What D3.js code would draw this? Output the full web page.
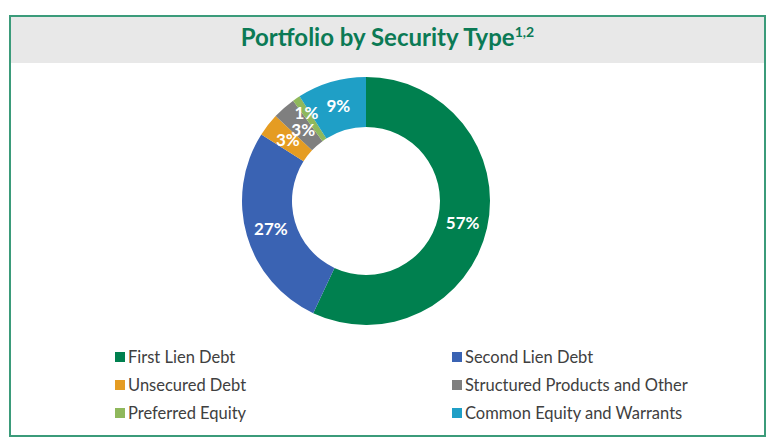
<!DOCTYPE html>
<html>
<head>
<meta charset="utf-8">
<script src="https://cdn.jsdelivr.net/npm/d3@7"></script>
<style>
  html, body { margin: 0; padding: 0; background: #fff; }
  svg { display: block; font-family: Lato, "Open Sans", sans-serif; }
</style>
</head>
<body>
<svg id="chart" width="784" height="447"></svg>
<script>
// data
const categories = ["First Lien Debt", "Second Lien Debt", "Unsecured Debt",
                    "Structured Products and Other", "Preferred Equity", "Common Equity and Warrants"];
const shares = [57, 27, 3, 3, 1, 9];
const colors = ["#00804f", "#3a63b3", "#e59c22", "#7f7f7f", "#8fb85c", "#1f9fc6"];

const width = 784;
const height = 447;
const frame = { left: 10, top: 16, right: 765, bottom: 436 };
const titleBand = 46;

const svg = d3.select('#chart');

// frame + title band
svg.append('rect')
    .attr('x', frame.left + 1)
    .attr('y', frame.top + 1)
    .attr('width', frame.right - frame.left - 2)
    .attr('height', titleBand)
    .attr('fill', '#e8e8e8');

svg.append('rect')
    .attr('x', frame.left)
    .attr('y', frame.top)
    .attr('width', frame.right - frame.left)
    .attr('height', frame.bottom - frame.top)
    .attr('fill', 'none')
    .attr('stroke', '#3b9b7a')
    .attr('stroke-width', 2);

const title = svg.append('text')
    .attr('x', (frame.left + frame.right) / 2)
    .attr('y', 46)
    .attr('text-anchor', 'middle')
    .style('font-size', '24px')
    .style('font-weight', 'bold')
    .style('fill', '#0b7a55')
    .text('Portfolio by Security Type');
title.append('tspan')
    .attr('dy', -9)
    .style('font-size', '14px')
    .text('1,2');

// donut
const cx = 366, cy = 201;
const outerR = 124, innerR = 74;

const pie = d3.pie().sort(null).value(d => d.value);
const arc = d3.arc().innerRadius(innerR).outerRadius(outerR);

const data = categories.map((c, i) => ({ name: c, value: shares[i], color: colors[i] }));

const g = svg.append('g').attr('transform', `translate(${cx}, ${cy})`);

const arcs = pie(data);

g.selectAll('path')
    .data(arcs)
    .enter()
    .append('path')
    .attr('d', arc)
    .attr('fill', d => d.data.color);

// the thin slices have their labels pushed in/out a little, like the original
const labelShift = { "Structured Products and Other": -4, "Preferred Equity": 7 };
const labelArc = name => {
    const r = (innerR + outerR) / 2 + (labelShift[name] || 0);
    return d3.arc().innerRadius(r).outerRadius(r);
};

g.selectAll('text')
    .data(arcs)
    .enter()
    .append('text')
    .attr('transform', d => `translate(${labelArc(d.data.name).centroid(d)})`)
    .attr('text-anchor', 'middle')
    .attr('dy', '0.36em')
    .style('font-size', '17px')
    .style('font-weight', 'bold')
    .style('fill', '#fff')
    .text(d => d.data.value + '%');

// legend, two columns
const colX = [115, 452];
const rowY = [357, 385, 413];

const legend = svg.append('g');
const items = legend.selectAll('g')
    .data(data)
    .enter()
    .append('g')
    .attr('transform', (d, i) => `translate(${colX[i % 2]}, ${rowY[Math.floor(i / 2)]})`);

items.append('rect')
    .attr('x', 0)
    .attr('y', -5)
    .attr('width', 10)
    .attr('height', 10)
    .attr('fill', d => d.color);

items.append('text')
    .attr('x', 13)
    .attr('dy', '0.36em')
    .style('font-size', '16.5px')
    .style('fill', '#404040')
    .text(d => d.name);
</script>
</body>
</html>
